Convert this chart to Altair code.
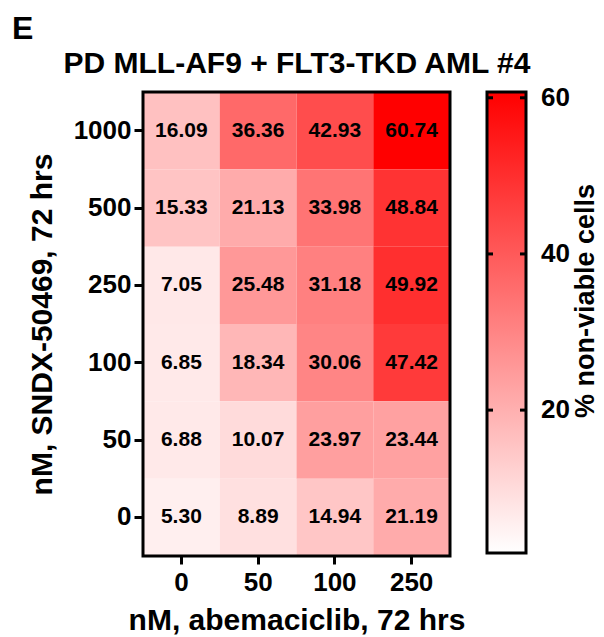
import altair as alt
import pandas as pd

# Drug doses (nM) and % non-viable cells after 72 hrs
abemaciclib = ["0", "50", "100", "250"]
sndx = ["1000", "500", "250", "100", "50", "0"]
values = [
    [16.09, 36.36, 42.93, 60.74],
    [15.33, 21.13, 33.98, 48.84],
    [7.05, 25.48, 31.18, 49.92],
    [6.85, 18.34, 30.06, 47.42],
    [6.88, 10.07, 23.97, 23.44],
    [5.30, 8.89, 14.94, 21.19],
]
color_min = 1.7
color_max = 60.74
colorbar_ticks = [20, 40, 60]

FONT = "Liberation Sans"
W, H = 307, 464

rows = []
for i, s in enumerate(sndx):
    for j, a in enumerate(abemaciclib):
        rows.append({"abema": a, "sndx": s, "v": values[i][j]})
df = pd.DataFrame(rows)

color_scale = alt.Scale(domain=[color_min, color_max], range=["#ffffff", "#ff0000"],
                        interpolate="rgb")

base = alt.Chart(df).encode(
    x=alt.X("abema:N", sort=abemaciclib,
            scale=alt.Scale(paddingInner=0, paddingOuter=0),
            axis=alt.Axis(title="nM, abemaciclib, 72 hrs", labelAngle=0, domain=False,
                          tickSize=8, tickWidth=3, tickColor="black",
                          labelFontSize=26, labelFont=FONT, labelFontWeight="bold",
                          labelColor="black", labelPadding=5,
                          titleFontSize=30, titleFont=FONT, titleFontWeight="bold",
                          titleColor="black", titlePadding=10)),
    y=alt.Y("sndx:N", sort=sndx,
            scale=alt.Scale(paddingInner=0, paddingOuter=0),
            axis=alt.Axis(title="nM, SNDX-50469, 72 hrs", domain=False,
                          tickSize=9, tickWidth=3, tickColor="black",
                          labelFontSize=26, labelFont=FONT, labelFontWeight="bold",
                          labelColor="black", labelPadding=3,
                          titleFontSize=30, titleFont=FONT, titleFontWeight="bold",
                          titleColor="black", titlePadding=16)),
)

cells = base.mark_rect().encode(color=alt.Color("v:Q", scale=color_scale, legend=None))
labels = base.mark_text(font=FONT, fontSize=21, fontWeight="bold", color="black").encode(
    text=alt.Text("v:Q", format=".2f"))

frame = alt.Chart(pd.DataFrame({"k": [0]})).mark_rect(
    fillOpacity=0, stroke="black", strokeWidth=3
).encode(x=alt.value(0), x2=alt.value(W), y=alt.value(0), y2=alt.value(H))

heat = alt.layer(cells, labels, frame)

# Colour bar drawn on its own value scale
px_per_unit = 461 / (color_max - color_min)
cb_scale = alt.Scale(domain=[color_min - (H - 461) / px_per_unit, color_max],
                     nice=False, zero=False)
cb_x0, cb_x1 = 344, 383

cb_df = pd.DataFrame({"lo": [color_min], "hi": [color_max]})
cb_rect = alt.Chart(cb_df).mark_rect(
    fill=alt.Gradient(gradient="linear",
                      stops=[alt.GradientStop(color="#ff0000", offset=0),
                             alt.GradientStop(color="#ffffff", offset=1)],
                      x1=0, x2=0, y1=0, y2=1),
    stroke="black", strokeWidth=3,
).encode(
    x=alt.value(cb_x0), x2=alt.value(cb_x1),
    y=alt.Y("hi:Q", scale=cb_scale, axis=None),
    y2="lo:Q",
)

tick_df = pd.DataFrame({"t": colorbar_ticks})
cb_tick_l = alt.Chart(tick_df).mark_rule(color="black", strokeWidth=3).encode(
    x=alt.value(cb_x0), x2=alt.value(cb_x0 + 6), y=alt.Y("t:Q", scale=cb_scale, axis=None))
cb_tick_r = alt.Chart(tick_df).mark_rule(color="black", strokeWidth=3).encode(
    x=alt.value(cb_x1 - 6), x2=alt.value(cb_x1), y=alt.Y("t:Q", scale=cb_scale, axis=None))
cb_labels = alt.Chart(tick_df).mark_text(
    font=FONT, fontSize=26, fontWeight="bold", color="black",
    align="left", baseline="middle"
).encode(x=alt.value(cb_x1 + 15), y=alt.Y("t:Q", scale=cb_scale, axis=None),
         text="t:Q")

cb_title = alt.Chart(pd.DataFrame({"s": ["% non-viable cells"]})).mark_text(
    font=FONT, fontSize=27, fontWeight="bold", color="black", angle=270,
    align="center", baseline="middle"
).encode(x=alt.value(443), y=alt.value(209), text="s:N")

colorbar = alt.layer(cb_rect, cb_tick_l, cb_tick_r, cb_labels, cb_title)

# Panel letter and chart title
title_df = pd.DataFrame({"s": ["PD MLL-AF9 + FLT3-TKD AML #4"]})
main_title = alt.Chart(title_df).mark_text(
    font=FONT, fontSize=30, fontWeight="bold", color="black",
    align="center", baseline="alphabetic"
).encode(x=alt.value(154), y=alt.value(-19), text="s:N")

letter = alt.Chart(pd.DataFrame({"s": ["E"]})).mark_text(
    font=FONT, fontSize=32, fontWeight="bold", color="black",
    align="left", baseline="alphabetic"
).encode(x=alt.value(-131), y=alt.value(-53), text="s:N")

chart = alt.layer(heat, colorbar, main_title, letter).resolve_scale(
    y="independent", x="independent"
).properties(
    width=W, height=H, background="white",
    padding={"left": 12, "top": 13, "right": 5, "bottom": 5},
).configure_view(stroke=None)

chart.save("out.html", embed_options={"renderer": "svg", "actions": False})
